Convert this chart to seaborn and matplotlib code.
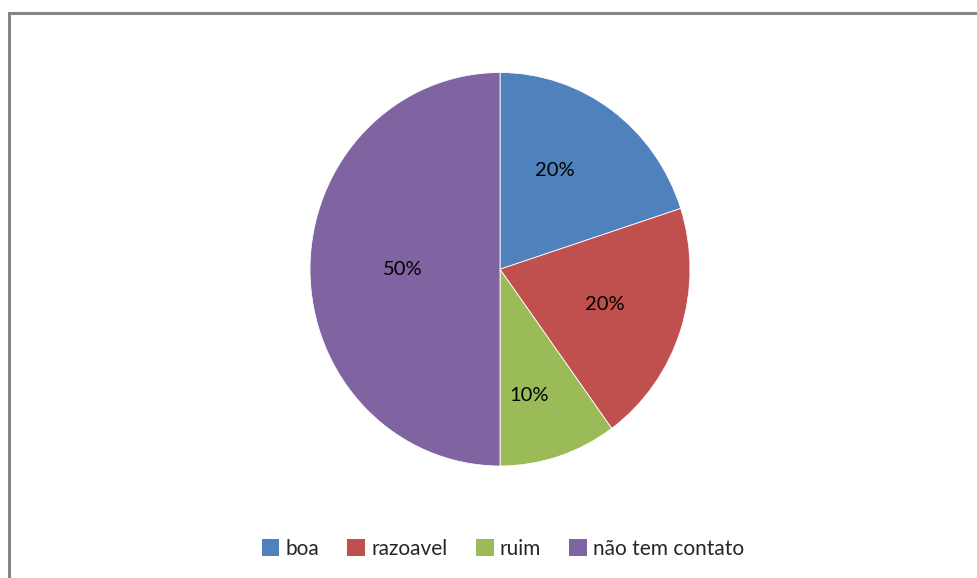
import matplotlib
matplotlib.use("Agg")
import matplotlib.pyplot as plt
import matplotlib.patches as mpatches
import numpy as np
import seaborn as sns

# Survey answers and their shares
categories = ["boa", "razoavel", "ruim", "não tem contato"]
shares = [20, 20, 10, 50]
slice_colors = ["#4F81BD", "#C0504D", "#9BBB59", "#8064A2"]

sns.set_theme(style="white")
plt.rcParams["font.family"] = ["Lato", "DejaVu Sans"]
palette = sns.color_palette(slice_colors)

W, H = 978, 578
fig = plt.figure(figsize=(W / 100, H / 100), dpi=100)
fig.patch.set_facecolor("white")

# Chart frame (open on the right and bottom edges)
frame = mpatches.Rectangle((8.5 / W, -0.05), 1.2, 1 - 13.5 / H + 0.05,
                           transform=fig.transFigure, fill=False,
                           edgecolor="#868686", linewidth=2.2)
fig.patches.append(frame)

# Pie area (slightly taller than wide)
ax = fig.add_axes([310 / W, 1 - 466 / H, 380 / W, 393.5 / H])
wedges, texts, autotexts = ax.pie(
    shares, colors=palette, startangle=90, counterclock=False,
    autopct=lambda p: f"{p:.0f}%", pctdistance=0.58,
    wedgeprops=dict(edgecolor="white", linewidth=0.6),
    textprops=dict(fontsize=14.5, color="black"))
ax.set_aspect("auto")
ax.set_xlim(-1, 1)
ax.set_ylim(-1, 1)
ax.axis("off")

# Place the percentage labels at their radial positions
label_radii = [0.58, 0.58, 0.66, 0.51]
label_angle_shift = [6, 0, -4.5, 0]
for w, t, r, s in zip(wedges, autotexts, label_radii, label_angle_shift):
    mid = np.deg2rad((w.theta1 + w.theta2) / 2 + s)
    t.set_position((r * np.cos(mid), r * np.sin(mid)))

handles = [mpatches.Patch(facecolor=c, edgecolor="none") for c in palette]
fig.legend(handles, categories, loc="center", bbox_to_anchor=(503 / W, 1 - 549 / H),
           ncol=4, frameon=False, fontsize=15, handlelength=0.85, handleheight=0.85,
           handletextpad=0.3, columnspacing=1.35)

fig.savefig("out.png", dpi=100, facecolor="white")
